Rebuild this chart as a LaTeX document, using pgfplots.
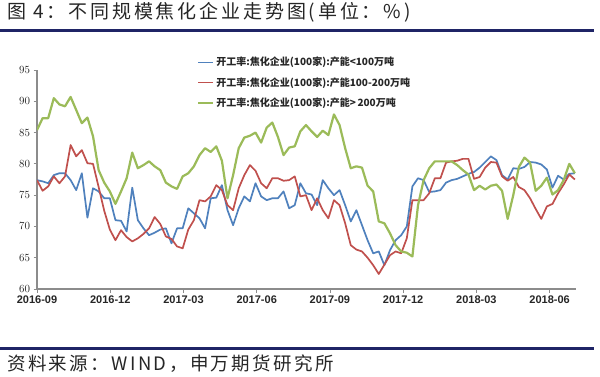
\documentclass[border=0pt]{standalone}
\usepackage{pgfplots}
\pgfplotsset{compat=1.18}
\usepackage{pgfplotstable}
\usepackage{fontspec}
\setmainfont{Liberation Sans}
\newfontfamily\cjk{Noto Sans CJK SC}
\newfontfamily\cjktitle[LetterSpace=15]{Noto Sans CJK SC}
\newfontfamily\cjkwide[LetterSpace=13]{Noto Sans CJK SC}
\newfontfamily\tickfont{Liberation Sans}

\definecolor{sblue}{HTML}{4F81BD}
\definecolor{sred}{HTML}{C0504D}
\definecolor{sgreen}{HTML}{9BBB59}
\definecolor{navy}{HTML}{1F2466}
\definecolor{axgray}{HTML}{8C8C8C}
\definecolor{txt}{HTML}{262626}

% i = week index from first week of 2016-09; a: <100, b: 100-200, c: >200
\pgfplotstableread{
i a b c
0 77.4 77.4 85.4
1 77.2 75.7 87.3
2 76.9 76.4 87.3
3 78.2 78.0 90.5
4 78.5 76.9 89.5
5 78.5 78.0 89.2
6 77.4 83.0 90.7
7 75.8 81.2 88.6
8 78.5 82.2 86.5
9 71.4 80.1 87.4
10 76.1 80.0 84.4
11 75.6 76.3 79.0
12 74.5 72.5 77.0
13 74.5 69.5 75.6
14 71.0 67.8 73.6
15 70.9 69.4 75.6
16 69.2 68.3 77.7
17 76.2 67.6 81.8
18 71.0 68.1 79.3
19 69.7 68.8 79.8
20 68.6 69.7 80.4
21 69.0 71.5 79.6
22 69.5 70.4 79.0
23 69.7 68.4 77.0
24 67.3 68.0 76.4
25 69.7 66.8 76.0
26 69.7 66.5 78.0
27 72.9 69.5 78.5
28 72.1 71.0 79.6
29 71.3 74.2 81.4
30 69.7 74.0 82.5
31 74.5 74.8 81.9
32 74.6 76.6 82.8
33 76.6 75.8 80.5
34 72.6 73.4 74.5
35 70.2 72.6 78.2
36 72.9 76.1 82.5
37 74.8 78.2 84.2
38 74.0 79.8 84.5
39 76.9 78.9 85.0
40 74.8 76.9 83.4
41 74.2 76.1 85.8
42 74.5 77.7 86.6
43 74.5 77.7 84.3
44 75.6 77.3 81.4
45 72.9 77.4 82.6
46 73.4 78.0 82.8
47 76.9 74.8 85.2
48 75.3 75.0 86.2
49 75.1 72.6 85.2
50 73.4 74.5 84.3
51 77.4 72.6 85.3
52 76.1 71.3 84.6
53 75.0 74.2 87.9
54 75.8 73.4 86.2
55 73.4 70.5 82.5
56 70.8 67.0 79.3
57 72.6 66.3 79.6
58 70.2 66.0 79.4
59 67.8 65.0 76.5
60 65.7 63.8 75.6
61 66.0 62.4 70.8
62 63.8 63.9 70.5
63 66.2 65.4 68.9
64 67.8 66.0 67.0
65 68.6 65.7 66.0
66 70.0 68.1 65.8
67 76.4 74.2 65.2
68 77.7 74.2 73.4
69 77.4 74.2 77.4
70 75.5 75.3 79.3
71 75.6 77.7 80.4
72 75.8 77.7 80.4
73 77.0 80.2 80.4
74 77.4 80.4 80.4
75 77.6 80.5 79.8
76 78.0 80.8 79.0
77 78.4 80.8 78.3
78 78.7 77.6 75.8
79 79.4 77.9 76.5
80 80.3 79.4 75.9
81 81.2 80.3 76.5
82 80.6 80.2 76.7
83 78.2 78.0 75.7
84 77.5 77.3 71.2
85 79.3 77.9 75.0
86 79.2 76.3 79.5
87 79.5 75.8 81.0
88 80.3 74.5 80.2
89 80.2 72.8 75.7
90 79.9 71.2 76.5
91 79.1 73.2 77.8
92 76.2 73.6 75.1
93 78.1 75.3 75.8
94 77.5 76.7 77.4
95 78.4 78.3 80.0
96 78.5 77.5 78.5
}\datatable

\begin{document}
\begin{tikzpicture}[x=1bp,y=1bp]
\useasboundingbox (0,0) rectangle (600,376);
\fill[white] (0,0) rectangle (600,376);
\node[anchor=west, inner sep=0pt, text=txt, font=\cjktitle\fontsize{19bp}{22bp}\selectfont] at (7,364) {图 4：不同规模焦化企业走势图(单位：\%)};
\draw[navy, line width=3bp] (0,345.5) -- (594,345.5);
\draw[navy, line width=3bp] (0,27.5) -- (594,27.5);
\node[anchor=west, inner sep=0pt, text=txt, font=\cjkwide\fontsize{18.5bp}{21bp}\selectfont] at (7,12) {资料来源：WIND，申万期货研究所};
\begin{axis}[
  at={(37bp,87bp)}, anchor=south west,
  scale only axis, width=539bp, height=219bp,
  xmin=0, xmax=96.2, ymin=60, ymax=95,
  axis x line*=bottom, axis y line*=left,
  x axis line style={-, draw=axgray, line width=2bp},
  y axis line style={-, draw=axgray, line width=1.2bp},
  ytick={60,65,...,95},
  xtick={0,13.07,26.14,39.21,52.28,65.35,78.42,91.49},
  xticklabels={2016-09,2016-12,2017-03,2017-06,2017-09,2017-12,2018-03,2018-06},
  tick align=outside, major tick length=3.5bp,
  tick style={draw=axgray, line width=0.8bp},
  ticklabel style={text=txt, font=\tickfont\bfseries\fontsize{11bp}{13bp}\selectfont},
  legend style={at={(0.297,1.068)}, anchor=north west, draw=none, fill=none,
    text=txt, font=\cjk\bfseries\fontsize{10bp}{12bp}\selectfont, row sep=6bp, inner sep=0pt},
  legend cell align=left,
  legend image code/.code={\draw[#1] (0bp,0bp) -- (15bp,0bp);},
  every axis plot/.append style={no markers, line join=round},
]
\addplot[sblue, line width=1.7bp] table[x=i, y=a] {\datatable};
\addlegendentry{开工率:焦化企业(100家):产能<100万吨}
\addplot[sred, line width=1.7bp] table[x=i, y=b] {\datatable};
\addlegendentry{开工率:焦化企业(100家):产能100-200万吨}
\addplot[sgreen, line width=2.2bp] table[x=i, y=c] {\datatable};
\addlegendentry{开工率:焦化企业(100家):产能>\,200万吨}
\end{axis}
\end{tikzpicture}
\end{document}
